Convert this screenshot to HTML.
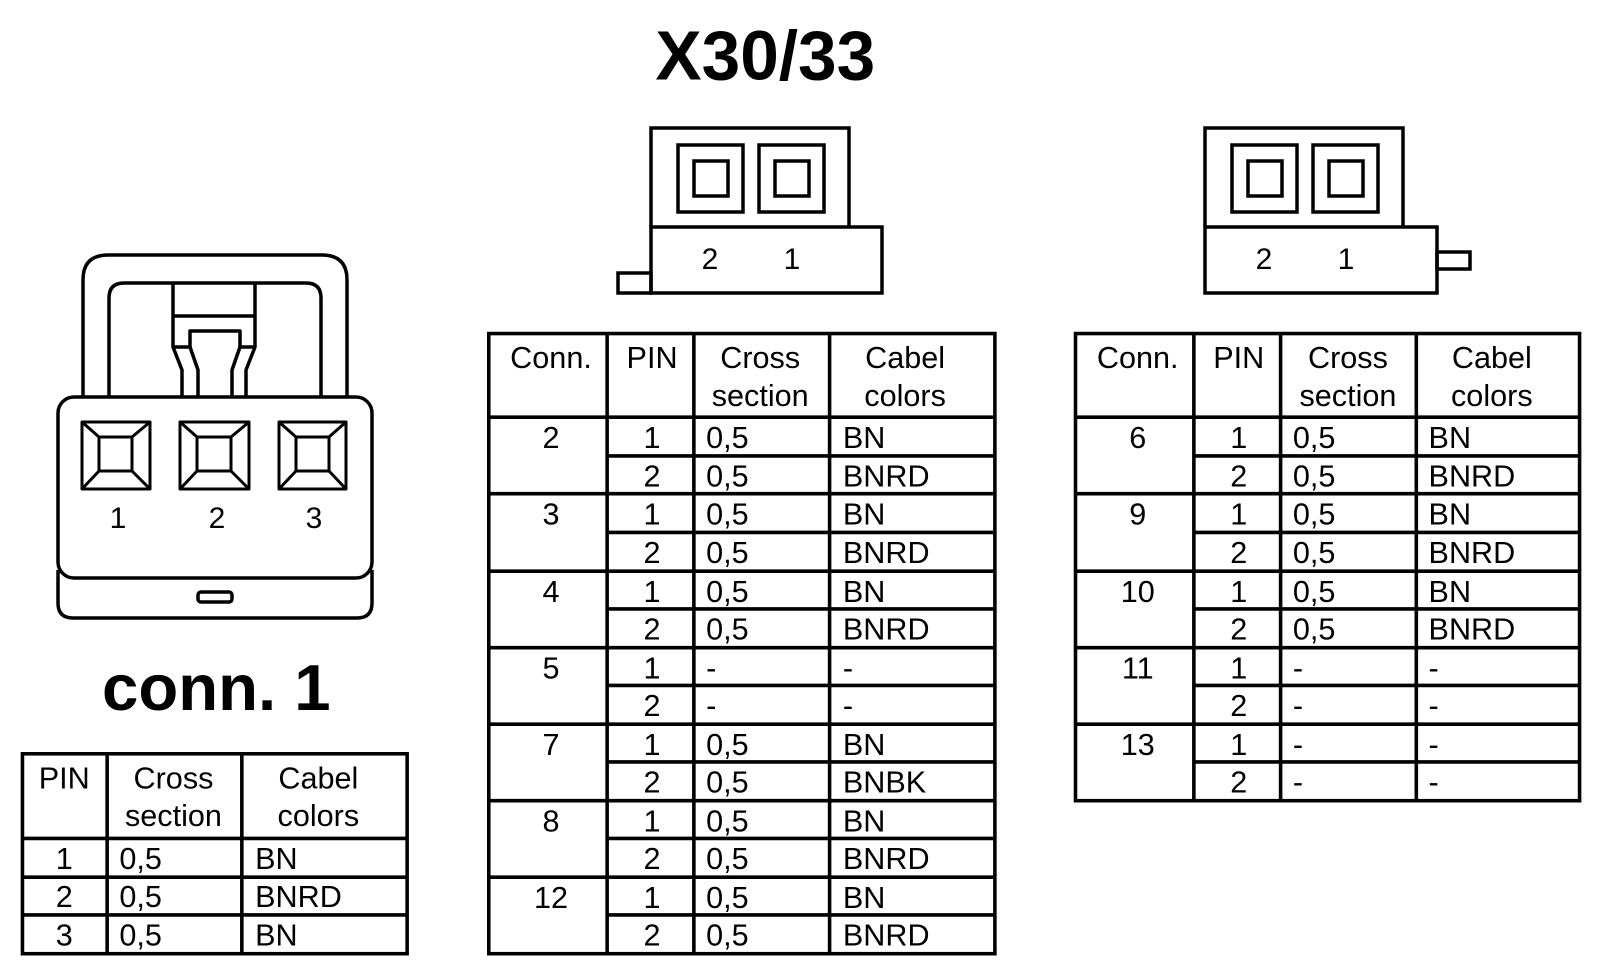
<!DOCTYPE html>
<html><head><meta charset="utf-8"><style>
html,body{margin:0;padding:0;background:#fff;width:1600px;height:970px;overflow:hidden}
svg{display:block}
text{font-family:"Liberation Sans",Arial,sans-serif;fill:#000}
</style></head><body>
<svg width="1600" height="970" viewBox="0 0 1600 970" xmlns="http://www.w3.org/2000/svg">
<g fill="none" stroke="#000" stroke-width="3.5" stroke-linejoin="round">
  <path d="M83,397 V280 Q83,255 108,255 H322 Q347,255 347,280 V397"/>
  <path d="M109,397 V298 Q109,283 124,283 H306 Q321,283 321,298 V397"/>
  <path d="M173,283 V347 L182,370 V397 M255,283 V347 L246,370 V397"/>
  <path d="M173,316 H255"/>
  <path d="M173,347 H190 V331 H240 V347 H255"/>
  <path d="M190,347 L198,370 V397 M240,347 L232,370 V397"/>
  <rect x="58" y="397" width="314" height="181" rx="16"/>
  <path d="M58,570 V603 Q58,618 73,618 H357 Q372,618 372,603 V570"/>
  <rect x="198" y="592" width="34" height="10" rx="3"/>
  <g stroke-width="3">
    <rect x="82" y="422" width="68" height="67"/><rect x="99" y="437" width="33" height="34"/>
    <path d="M82,422 L99,437 M150,422 L132,437 M82,489 L99,471 M150,489 L132,471"/>
    <rect x="180" y="422" width="69" height="67"/><rect x="197" y="437" width="34" height="34"/>
    <path d="M180,422 L197,437 M249,422 L231,437 M180,489 L197,471 M249,489 L231,471"/>
    <rect x="279" y="422" width="67" height="67"/><rect x="296" y="437" width="33" height="34"/>
    <path d="M279,422 L296,437 M346,422 L329,437 M279,489 L296,471 M346,489 L329,471"/>
  </g>
</g>
<g font-size="30" text-anchor="middle">
  <text x="118" y="528">1</text><text x="217" y="528">2</text><text x="314" y="528">3</text>
</g>
<g fill="none" stroke="#000" stroke-width="3.5">
  <path d="M1205,227 V128 H1403 V227"/>
  <rect x="1205" y="227" width="232" height="66"/>
  <rect x="1437" y="252" width="33" height="17"/>
  <rect x="1232" y="145" width="65" height="67"/><rect x="1248" y="161" width="34" height="35"/>
  <rect x="1313" y="145" width="65" height="67"/><rect x="1329" y="161" width="34" height="35"/>
  <path d="M651,227 V128 H849 V227"/>
  <rect x="651" y="227" width="231" height="66"/>
  <rect x="618" y="273" width="33" height="20"/>
  <rect x="678" y="145" width="65" height="67"/><rect x="694" y="161" width="34" height="35"/>
  <rect x="759" y="145" width="65" height="67"/><rect x="775" y="161" width="34" height="35"/>
</g>
<g font-size="30" text-anchor="middle">
  <text x="1264" y="269">2</text><text x="1346" y="269">1</text>
  <text x="710" y="269">2</text><text x="792" y="269">1</text>
</g>
<g transform="scale(1.0204,1.02)">
  <text x="750" y="78" font-size="68" font-weight="bold" text-anchor="middle">X30/33</text>
  <text x="212" y="696" font-size="64" font-weight="bold" text-anchor="middle">conn. 1</text>
  <g fill="none" stroke="#000" stroke-width="3.5">
    <rect x="479" y="327" width="496" height="608"/>
    <path d="M595,327V935 M680,327V935 M813,327V935 M479,409H975
      M479,484H975 M479,560H975 M479,635H975 M479,710H975 M479,785H975 M479,860H975
      M595,447H975 M595,522H975 M595,597H975 M595,672H975 M595,747H975 M595,822H975 M595,897H975"/>
    <rect x="1054" y="327" width="494" height="458"/>
    <path d="M1170,327V785 M1255,327V785 M1388,327V785 M1054,409H1548
      M1054,484H1548 M1054,560H1548 M1054,635H1548 M1054,710H1548
      M1170,447H1548 M1170,522H1548 M1170,597H1548 M1170,672H1548 M1170,747H1548"/>
    <rect x="22" y="739" width="377" height="196"/>
    <path d="M105,739V935 M237,739V935 M22,822H399 M22,860H399 M22,897H399"/>
  </g>
  <g font-size="30">
    <g text-anchor="middle">
      <text x="540" y="361">Conn.</text><text x="639" y="361">PIN</text>
      <text x="745" y="361">Cross</text><text x="745" y="398">section</text>
      <text x="887" y="361">Cabel</text><text x="887" y="398">colors</text>
      <text x="1115" y="361">Conn.</text><text x="1214" y="361">PIN</text>
      <text x="1321" y="361">Cross</text><text x="1321" y="398">section</text>
      <text x="1462" y="361">Cabel</text><text x="1462" y="398">colors</text>
      <text x="63" y="773">PIN</text>
      <text x="170" y="773">Cross</text><text x="170" y="810">section</text>
      <text x="312" y="773">Cabel</text><text x="312" y="810">colors</text>
      <text x="540" y="439">2</text><text x="540" y="514">3</text><text x="540" y="590">4</text>
      <text x="540" y="665">5</text><text x="540" y="740">7</text><text x="540" y="815">8</text><text x="540" y="890">12</text>
      <text x="639" y="439">1</text><text x="639" y="477">2</text>
      <text x="639" y="514">1</text><text x="639" y="552">2</text>
      <text x="639" y="590">1</text><text x="639" y="627">2</text>
      <text x="639" y="665">1</text><text x="639" y="702">2</text>
      <text x="639" y="740">1</text><text x="639" y="777">2</text>
      <text x="639" y="815">1</text><text x="639" y="852">2</text>
      <text x="639" y="890">1</text><text x="639" y="927">2</text>
      <text x="1115" y="439">6</text><text x="1115" y="514">9</text><text x="1115" y="590">10</text>
      <text x="1115" y="665">11</text><text x="1115" y="740">13</text>
      <text x="1214" y="439">1</text><text x="1214" y="477">2</text>
      <text x="1214" y="514">1</text><text x="1214" y="552">2</text>
      <text x="1214" y="590">1</text><text x="1214" y="627">2</text>
      <text x="1214" y="665">1</text><text x="1214" y="702">2</text>
      <text x="1214" y="740">1</text><text x="1214" y="777">2</text>
      <text x="63" y="852">1</text><text x="63" y="889">2</text><text x="63" y="927">3</text>
    </g>
    <text x="692" y="439">0,5</text><text x="826" y="439">BN</text>
    <text x="692" y="477">0,5</text><text x="826" y="477">BNRD</text>
    <text x="692" y="514">0,5</text><text x="826" y="514">BN</text>
    <text x="692" y="552">0,5</text><text x="826" y="552">BNRD</text>
    <text x="692" y="590">0,5</text><text x="826" y="590">BN</text>
    <text x="692" y="627">0,5</text><text x="826" y="627">BNRD</text>
    <text x="692" y="665">-</text><text x="826" y="665">-</text>
    <text x="692" y="702">-</text><text x="826" y="702">-</text>
    <text x="692" y="740">0,5</text><text x="826" y="740">BN</text>
    <text x="692" y="777">0,5</text><text x="826" y="777">BNBK</text>
    <text x="692" y="815">0,5</text><text x="826" y="815">BN</text>
    <text x="692" y="852">0,5</text><text x="826" y="852">BNRD</text>
    <text x="692" y="890">0,5</text><text x="826" y="890">BN</text>
    <text x="692" y="927">0,5</text><text x="826" y="927">BNRD</text>
    <text x="1267" y="439">0,5</text><text x="1400" y="439">BN</text>
    <text x="1267" y="477">0,5</text><text x="1400" y="477">BNRD</text>
    <text x="1267" y="514">0,5</text><text x="1400" y="514">BN</text>
    <text x="1267" y="552">0,5</text><text x="1400" y="552">BNRD</text>
    <text x="1267" y="590">0,5</text><text x="1400" y="590">BN</text>
    <text x="1267" y="627">0,5</text><text x="1400" y="627">BNRD</text>
    <text x="1267" y="665">-</text><text x="1400" y="665">-</text>
    <text x="1267" y="702">-</text><text x="1400" y="702">-</text>
    <text x="1267" y="740">-</text><text x="1400" y="740">-</text>
    <text x="1267" y="777">-</text><text x="1400" y="777">-</text>
    <text x="117" y="852">0,5</text><text x="250" y="852">BN</text>
    <text x="117" y="889">0,5</text><text x="250" y="889">BNRD</text>
    <text x="117" y="927">0,5</text><text x="250" y="927">BN</text>
  </g>
</g>
</svg>
</body></html>
